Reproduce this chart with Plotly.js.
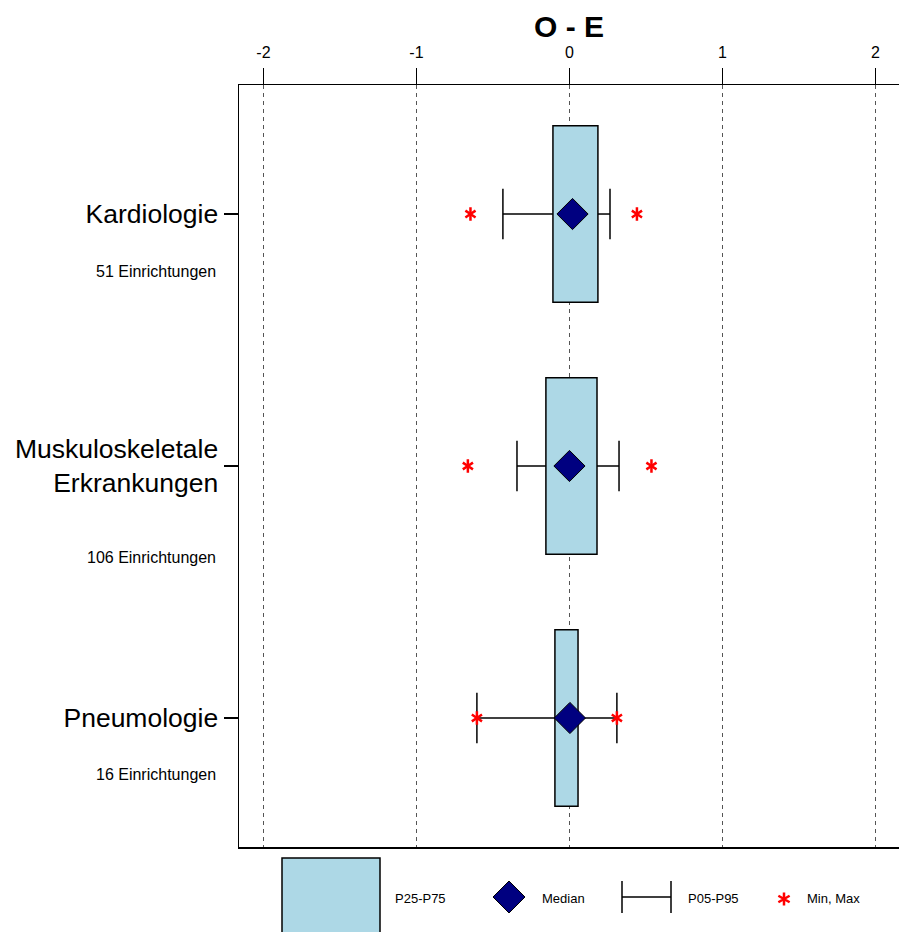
<!DOCTYPE html>
<html><head><meta charset="utf-8">
<script src="https://cdn.plot.ly/plotly-3.0.1.min.js"></script>
<style>html,body{margin:0;padding:0;background:#fff}</style>
</head><body><div id="chart" style="width:899px;height:932px"></div>
<script>
const categories = ['Kardiologie', 'Muskuloskeletale<br>Erkrankungen', 'Pneumologie'];
const counts = [51, 106, 16];
const p25 = [-0.108, -0.154, -0.095];
const p75 = [0.186, 0.180, 0.056];
const median = [0.020, 0.000, 0.003];
const p05 = [-0.435, -0.343, -0.605];
const p95 = [0.265, 0.324, 0.310];
const minVals = [-0.647, -0.664, -0.605];
const maxVals = [0.441, 0.536, 0.310];
const xTicks = [-2, -1, 0, 1, 2];
const legendLabels = ['P25-P75', 'Median', 'P05-P95', 'Min, Max'];

const FONT = 'Liberation Sans, Arial, sans-serif';
const BOXFILL = '#ADD8E6';
const NAVY = '#000080';
const n = categories.length;
const ypos = categories.map((c, i) => n - i);

// whisker segments (outside the box)
const wx = [], wy = [];
for (let i = 0; i < n; i++) {
  wx.push(p05[i], p25[i], null, p75[i], p95[i], null);
  wy.push(ypos[i], ypos[i], null, ypos[i], ypos[i], null);
}

const traces = [
  {type: 'bar', orientation: 'h', y: ypos, base: p25, x: p75.map((v, i) => v - p25[i]),
   width: 0.7, marker: {color: BOXFILL, line: {color: '#000', width: 1.5}}, hoverinfo: 'skip'},
  {type: 'scatter', mode: 'lines', x: wx, y: wy, line: {color: '#000', width: 1.5}, hoverinfo: 'skip'},
  {type: 'scatter', mode: 'markers', x: p05.concat(p95), y: ypos.concat(ypos),
   marker: {symbol: 'line-ns-open', size: 36, color: '#000', line: {color: '#000', width: 1.5}}},
  {type: 'scatter', mode: 'markers', x: median, y: ypos,
   marker: {symbol: 'diamond', size: 24, color: NAVY, line: {color: '#000', width: 1}}},
  {type: 'scatter', mode: 'markers', x: minVals.concat(maxVals), y: ypos.concat(ypos),
   marker: {symbol: 'y-up-open', size: 8.5, color: '#FF0000', line: {color: '#FF0000', width: 2.5}}},
  {type: 'scatter', mode: 'markers', x: minVals.concat(maxVals), y: ypos.concat(ypos),
   marker: {symbol: 'y-down-open', size: 8.5, color: '#FF0000', line: {color: '#FF0000', width: 2.5}}}
];

const L = 239, R = 899, T = 85, B = 847;
const px2x = p => (p - L) / (R - L);
const px2y = p => (B - p) / (B - T);

const annotations = categories.map((c, i) => ({
  xref: 'paper', yref: 'y', x: px2x(218), y: ypos[i], xanchor: 'right', yanchor: 'middle',
  yshift: -(57 + 34 * (c.split('<br>').length - 1)),
  text: counts[i] + ' Einrichtungen', showarrow: false, font: {family: FONT, size: 16, color: '#000'}
}));
const legendTextX = [393, 540, 686, 805];
legendLabels.forEach((t, i) => annotations.push({
  xref: 'paper', yref: 'paper', x: px2x(legendTextX[i]), y: px2y(898), xanchor: 'left', yanchor: 'middle',
  text: t, showarrow: false, font: {family: FONT, size: 13, color: '#000'}
}));

const P = (x, y) => px2x(x) + ',' + px2y(y);
const starC = [784, 899], arm = 6.5;
let starPath = '';
[90, 30, 150].forEach(a => {
  const dx = arm * Math.cos(a * Math.PI / 180), dy = arm * Math.sin(a * Math.PI / 180);
  starPath += 'M' + P(starC[0] - dx, starC[1] - dy) + 'L' + P(starC[0] + dx, starC[1] + dy);
});

const shapes = [
  {type: 'rect', xref: 'paper', yref: 'paper', x0: px2x(282), x1: px2x(380), y0: px2y(858), y1: px2y(950),
   fillcolor: BOXFILL, line: {color: '#000', width: 1.5}},
  {type: 'path', xref: 'paper', yref: 'paper', path: 'M' + P(493, 897) + 'L' + P(509, 881) + 'L' + P(525, 897) + 'L' + P(509, 913) + 'Z',
   fillcolor: NAVY, line: {color: '#000', width: 1}},
  {type: 'path', xref: 'paper', yref: 'paper',
   path: 'M' + P(622, 897) + 'L' + P(671, 897) + 'M' + P(622, 881) + 'L' + P(622, 913) + 'M' + P(671, 881) + 'L' + P(671, 913),
   line: {color: '#000', width: 1.5}},
  {type: 'path', xref: 'paper', yref: 'paper', path: starPath, line: {color: '#FF0000', width: 2.5}}
];

const layout = {
  width: 899, height: 932,
  margin: {l: L, r: 0, t: T, b: 932 - B, pad: 0},
  paper_bgcolor: '#fff', plot_bgcolor: '#fff',
  showlegend: false,
  font: {family: FONT, color: '#000'},
  title: {text: '<b>O - E</b>', x: 0.5, xref: 'paper', xanchor: 'center', y: 1 - 26 / 932, yref: 'container', yanchor: 'middle',
          font: {family: FONT, size: 30, color: '#000'}},
  xaxis: {side: 'top', range: [-2.160, 2.154], tickvals: xTicks, ticktext: xTicks.map(String),
          ticks: 'outside', ticklen: 16, tickwidth: 1.5, tickcolor: '#000', ticklabelstandoff: 3,
          showline: true, mirror: true, linecolor: '#000', linewidth: 1.5,
          showgrid: true, gridcolor: '#555', gridwidth: 1, griddash: '4px,4px', zeroline: false,
          tickfont: {family: FONT, size: 16, color: '#000'}, fixedrange: true},
  yaxis: {range: [0.488, 3.512], tickvals: ypos, ticktext: categories,
          ticks: 'outside', ticklen: 14, tickwidth: 1.5, tickcolor: '#000',
          showline: true, mirror: false, linecolor: '#000', linewidth: 1.5,
          showgrid: false, zeroline: false,
          tickfont: {family: FONT, size: 26.5, color: '#000'}, fixedrange: true},
  annotations: annotations,
  shapes: shapes
};

Plotly.newPlot('chart', traces, layout, {displayModeBar: false, staticPlot: true});
</script>
</body></html>
